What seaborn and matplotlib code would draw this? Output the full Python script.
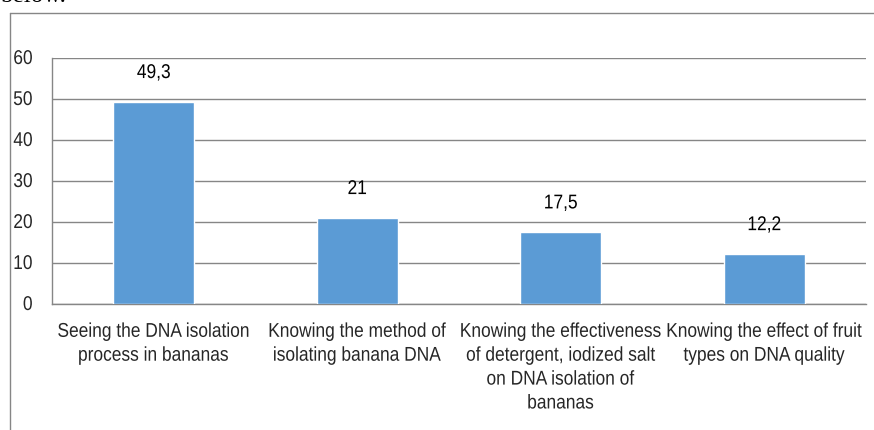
import matplotlib
matplotlib.use("Agg")
import matplotlib.pyplot as plt
from matplotlib.patheffects import AbstractPathEffect
from matplotlib.transforms import Affine2D
import seaborn as sns
import pandas as pd

categories = [
    "Seeing the DNA isolation\nprocess in bananas",
    "Knowing the method of\nisolating banana DNA",
    "Knowing the effectiveness\nof detergent, iodized salt\non DNA isolation of\nbananas",
    "Knowing the effect of fruit\ntypes on DNA quality",
]
values = [49.3, 21, 17.5, 12.2]
value_labels = ["49,3", "21", "17,5", "12,2"]
y_ticks = [0, 10, 20, 30, 40, 50, 60]

sns.set_theme(style="white")
plt.rcParams["font.family"] = ["Liberation Sans", "DejaVu Sans"]

GRID = "#868686"
BAR = "#5B9BD5"
FS = 12.5


class TallGlyphs(AbstractPathEffect):
    """Draw text with glyphs stretched upward from the baseline (narrow-face look)."""

    def __init__(self, sy=1.15):
        super().__init__()
        self.sy = sy

    def draw_path(self, renderer, gc, tpath, affine, rgbFace=None):
        renderer.draw_path(gc, tpath, Affine2D().scale(1, self.sy) + affine, rgbFace)


tall = [TallGlyphs(1.15)]

df = pd.DataFrame({"category": categories, "value": values})

fig = plt.figure(figsize=(8.74, 4.30), dpi=100)
ax = fig.add_axes([52 / 874, 1 - 304 / 430, (866 - 52) / 874, (304 - 58) / 430])

sns.barplot(data=df, x="category", y="value", color=BAR, width=0.4,
            saturation=1, ax=ax, zorder=3)

ax.set_ylim(0, 60)
ax.set_xlim(-0.5, 3.5)
ax.set_yticks(y_ticks)
ax.set_yticklabels([str(t) for t in y_ticks], fontsize=FS)

# category boundaries carry the tick marks, category centres carry the labels
ax.set_xticks([-0.5, 0.5, 1.5, 2.5, 3.5])
ax.set_xticklabels([])
ax.set_xticks([0, 1, 2, 3], minor=True)
ax.set_xticklabels(categories, minor=True, fontsize=FS, linespacing=1.74)
ax.tick_params(axis="x", which="minor", length=0, pad=15)
ax.tick_params(axis="x", which="major", length=5, color=GRID, width=1, direction="out")
ax.tick_params(axis="y", length=5, color=GRID, width=1, direction="out", pad=9)
ax.set_xlabel("")
ax.set_ylabel("")
ax.grid(axis="y", color=GRID, linewidth=1, zorder=0)
ax.set_axisbelow(True)
for side in ["top", "right"]:
    ax.spines[side].set_visible(False)
for side in ["left", "bottom"]:
    ax.spines[side].set_color(GRID)
    ax.spines[side].set_linewidth(1)

for lab in ax.get_yticklabels() + ax.get_xticklabels(minor=True):
    lab.set_path_effects(tall)

for i, (v, lab) in enumerate(zip(values, value_labels)):
    ax.annotate(lab, xy=(i, v), xytext=(0, 15), textcoords="offset points",
                ha="center", va="bottom", fontsize=FS, color="black",
                path_effects=tall)

# outer frame of the chart area
fig.add_artist(plt.Line2D([10 / 874, 10 / 874], [0, 1 - 13 / 430],
                          transform=fig.transFigure, color=GRID, linewidth=1))
fig.add_artist(plt.Line2D([10 / 874, 1], [1 - 13 / 430, 1 - 13 / 430],
                          transform=fig.transFigure, color=GRID, linewidth=1))
fig.text(0, 1 + 4 / 430, "below.", fontsize=18, family="Liberation Serif",
         ha="left", va="center", color="black")

fig.savefig("out.png", dpi=100)
